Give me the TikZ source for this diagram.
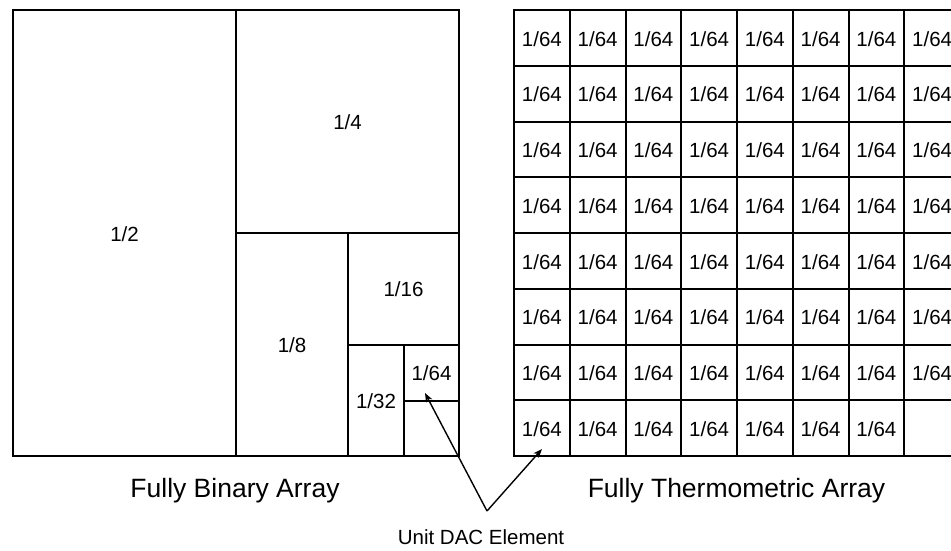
\documentclass[tikz,border=0pt]{standalone}
\usepackage{fontspec}
\setmainfont{Liberation Sans}
\usetikzlibrary{arrows.meta}
\begin{document}
\begin{tikzpicture}[x=1pt,y=-1pt,
  cellline/.style={line width=2pt, draw=black},
  lbl/.style={font=\fontsize{20.5}{24}\selectfont, inner sep=0pt},
  captext/.style={font=\fontsize{26.5}{30}\selectfont, inner sep=0pt, anchor=base},
  unittext/.style={font=\fontsize{20.5}{24}\selectfont, inner sep=0pt, anchor=base},
  pointer/.style={line width=1.4pt, -{Stealth[length=9pt,width=7pt]}}]
\useasboundingbox (0,0) rectangle (951,550);
\fill[white] (0,0) rectangle (951,550);
\clip (0,0) rectangle (951,550);
% Fully binary array
\draw[cellline] (13,10) rectangle (459,456);
\draw[cellline] (236,10) -- (236,456);
\draw[cellline] (236,233) -- (459,233);
\draw[cellline] (348,233) -- (348,456);
\draw[cellline] (348,345) -- (459,345);
\draw[cellline] (404,345) -- (404,456);
\draw[cellline] (404,401) -- (459,401);
\node[lbl] (b2) at (124.5,234) {1/2};
\node[lbl] (b4) at (347.5,122) {1/4};
\node[lbl] (b8) at (292,345) {1/8};
\node[lbl] (b16) at (403.5,289) {1/16};
\node[lbl] (b32) at (376,401) {1/32};
\node[lbl] (b64) at (431.5,373.5) {1/64};
% Fully thermometric array
\draw[cellline] (514,10) rectangle (960,456);
\foreach \i in {1,...,7} \draw[cellline] ({514+\i*55.75},10) -- ({514+\i*55.75},456);
\foreach \j in {1,...,7} \draw[cellline] (514,{10+\j*55.75}) -- (960,{10+\j*55.75});
\foreach \r in {0,...,6} \foreach \c in {0,...,7}
  \node[lbl] (t-\r-\c) at ({514+(\c+0.5)*55.75},{10+(\r+0.5)*55.75+1}) {1/64};
\foreach \c in {0,...,6}
  \node[lbl] (t-7-\c) at ({514+(\c+0.5)*55.75},{10+7.5*55.75+1}) {1/64};
% captions
\node[captext] (bincap) at (235,497) {Fully Binary Array};
\node[captext] (thermocap) at (736.5,497) {Fully Thermometric Array};
\node[unittext] (unitcap) at (481,544) {Unit DAC Element};
% pointers
\coordinate (apex) at (487,511);
\coordinate (unitL) at (425,393);
\coordinate (unitR) at (542,449);
\draw[pointer] (apex) -- (unitL);
\draw[pointer] (apex) -- (unitR);
\end{tikzpicture}
\end{document}
